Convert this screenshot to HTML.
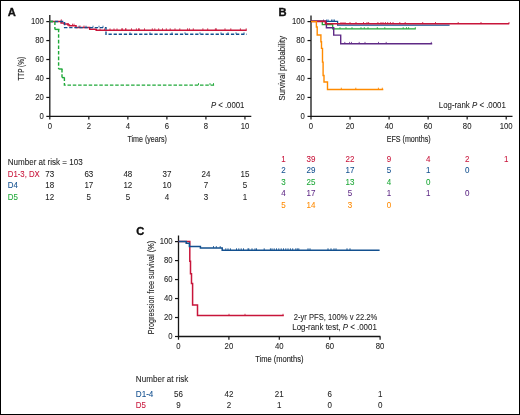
<!DOCTYPE html>
<html><head><meta charset="utf-8"><style>
html,body{margin:0;padding:0;background:#fff;}
#fig{position:absolute;left:0;top:0;width:520px;height:415px;box-sizing:border-box;border:1px solid #000;overflow:hidden;}
svg{position:absolute;left:-1px;top:-1px;will-change:transform;font-family:"Liberation Sans", sans-serif;}
</style></head><body>
<div id="fig"><svg width="520" height="415" viewBox="0 0 520 415">
<text x="7.8" y="15.5" font-size="11.2" text-anchor="start" fill="#111" font-weight="bold" stroke="#111" stroke-width="0.35">A</text>
<path d="M49.8,15 L49.8,116.4 L251.3,116.4" fill="none" stroke="#161616" stroke-width="1.3"/>
<line x1="46.3" y1="116.4" x2="49.8" y2="116.4" stroke="#161616" stroke-width="1.2"/>
<line x1="46.3" y1="97.44" x2="49.8" y2="97.44" stroke="#161616" stroke-width="1.2"/>
<line x1="46.3" y1="78.48" x2="49.8" y2="78.48" stroke="#161616" stroke-width="1.2"/>
<line x1="46.3" y1="59.52" x2="49.8" y2="59.52" stroke="#161616" stroke-width="1.2"/>
<line x1="46.3" y1="40.56" x2="49.8" y2="40.56" stroke="#161616" stroke-width="1.2"/>
<line x1="46.3" y1="21.599999999999994" x2="49.8" y2="21.599999999999994" stroke="#161616" stroke-width="1.2"/>
<line x1="49.8" y1="116.4" x2="49.8" y2="119.60000000000001" stroke="#161616" stroke-width="1.2"/>
<line x1="88.83" y1="116.4" x2="88.83" y2="119.60000000000001" stroke="#161616" stroke-width="1.2"/>
<line x1="127.86" y1="116.4" x2="127.86" y2="119.60000000000001" stroke="#161616" stroke-width="1.2"/>
<line x1="166.89" y1="116.4" x2="166.89" y2="119.60000000000001" stroke="#161616" stroke-width="1.2"/>
<line x1="205.92000000000002" y1="116.4" x2="205.92000000000002" y2="119.60000000000001" stroke="#161616" stroke-width="1.2"/>
<line x1="244.95" y1="116.4" x2="244.95" y2="119.60000000000001" stroke="#161616" stroke-width="1.2"/>
<text x="43.8" y="119.0" font-size="8.6" text-anchor="end" fill="#1e1e1e" textLength="4.3" lengthAdjust="spacingAndGlyphs" stroke="#1e1e1e" stroke-width="0.08">0</text>
<text x="43.8" y="100.03999999999999" font-size="8.6" text-anchor="end" fill="#1e1e1e" textLength="8.6" lengthAdjust="spacingAndGlyphs" stroke="#1e1e1e" stroke-width="0.08">20</text>
<text x="43.8" y="81.08" font-size="8.6" text-anchor="end" fill="#1e1e1e" textLength="8.6" lengthAdjust="spacingAndGlyphs" stroke="#1e1e1e" stroke-width="0.08">40</text>
<text x="43.8" y="62.120000000000005" font-size="8.6" text-anchor="end" fill="#1e1e1e" textLength="8.6" lengthAdjust="spacingAndGlyphs" stroke="#1e1e1e" stroke-width="0.08">60</text>
<text x="43.8" y="43.160000000000004" font-size="8.6" text-anchor="end" fill="#1e1e1e" textLength="8.6" lengthAdjust="spacingAndGlyphs" stroke="#1e1e1e" stroke-width="0.08">80</text>
<text x="43.8" y="24.199999999999996" font-size="8.6" text-anchor="end" fill="#1e1e1e" textLength="12.9" lengthAdjust="spacingAndGlyphs" stroke="#1e1e1e" stroke-width="0.08">100</text>
<text x="49.8" y="128.8" font-size="8.6" text-anchor="middle" fill="#1e1e1e" textLength="4.3" lengthAdjust="spacingAndGlyphs" stroke="#1e1e1e" stroke-width="0.08">0</text>
<text x="88.83" y="128.8" font-size="8.6" text-anchor="middle" fill="#1e1e1e" textLength="4.3" lengthAdjust="spacingAndGlyphs" stroke="#1e1e1e" stroke-width="0.08">2</text>
<text x="127.86" y="128.8" font-size="8.6" text-anchor="middle" fill="#1e1e1e" textLength="4.3" lengthAdjust="spacingAndGlyphs" stroke="#1e1e1e" stroke-width="0.08">4</text>
<text x="166.89" y="128.8" font-size="8.6" text-anchor="middle" fill="#1e1e1e" textLength="4.3" lengthAdjust="spacingAndGlyphs" stroke="#1e1e1e" stroke-width="0.08">6</text>
<text x="205.92000000000002" y="128.8" font-size="8.6" text-anchor="middle" fill="#1e1e1e" textLength="4.3" lengthAdjust="spacingAndGlyphs" stroke="#1e1e1e" stroke-width="0.08">8</text>
<text x="244.95" y="128.8" font-size="8.6" text-anchor="middle" fill="#1e1e1e" textLength="8.6" lengthAdjust="spacingAndGlyphs" stroke="#1e1e1e" stroke-width="0.08">10</text>
<text transform="translate(24.2,68.8) rotate(-90)" font-size="9.1" stroke="#1e1e1e" stroke-width="0.12" text-anchor="middle" fill="#1e1e1e" textLength="23.6" lengthAdjust="spacingAndGlyphs">TTP (%)</text>
<text x="147.2" y="141.8" font-size="9.5" text-anchor="middle" fill="#1e1e1e" textLength="39.6" lengthAdjust="spacingAndGlyphs" stroke="#1e1e1e" stroke-width="0.14">Time (years)</text>
<text x="244.4" y="108.1" font-size="8.8" text-anchor="end" fill="#1e1e1e" textLength="33.5" lengthAdjust="spacingAndGlyphs" stroke="#1e1e1e" stroke-width="0.08"><tspan font-style="italic">P</tspan> &lt; .0001</text>
<path d="M49.80,21.50 L61.10,21.50 L61.10,22.90 L64.20,22.90 L64.20,23.90 L68.00,23.90 L68.00,25.00 L69.40,25.00 L69.40,25.70 L76.00,25.70 L76.00,27.40 L89.70,27.40 L89.70,29.30 L96.20,29.30 L96.20,30.30 L246.70,30.30" fill="none" stroke="#c8153a" stroke-width="1.5" stroke-linejoin="miter" stroke-linecap="butt"/>
<line x1="121.7" y1="30.2" x2="121.7" y2="28.3" stroke="#c8153a" stroke-width="0.8"/>
<line x1="122.6" y1="30.2" x2="122.6" y2="28.3" stroke="#c8153a" stroke-width="0.8"/>
<line x1="125.5" y1="30.2" x2="125.5" y2="28.3" stroke="#c8153a" stroke-width="0.8"/>
<line x1="126" y1="30.2" x2="126" y2="28.3" stroke="#c8153a" stroke-width="0.8"/>
<line x1="131.5" y1="30.2" x2="131.5" y2="28.3" stroke="#c8153a" stroke-width="0.8"/>
<line x1="136.4" y1="30.2" x2="136.4" y2="28.3" stroke="#c8153a" stroke-width="0.8"/>
<line x1="138.5" y1="30.2" x2="138.5" y2="28.3" stroke="#c8153a" stroke-width="0.8"/>
<line x1="139.3" y1="30.2" x2="139.3" y2="28.3" stroke="#c8153a" stroke-width="0.8"/>
<line x1="144.5" y1="30.2" x2="144.5" y2="28.3" stroke="#c8153a" stroke-width="0.8"/>
<line x1="152.3" y1="30.2" x2="152.3" y2="28.3" stroke="#c8153a" stroke-width="0.8"/>
<line x1="154.8" y1="30.2" x2="154.8" y2="28.3" stroke="#c8153a" stroke-width="0.8"/>
<line x1="158.7" y1="30.2" x2="158.7" y2="28.3" stroke="#c8153a" stroke-width="0.8"/>
<line x1="162.5" y1="30.2" x2="162.5" y2="28.3" stroke="#c8153a" stroke-width="0.8"/>
<line x1="166.3" y1="30.2" x2="166.3" y2="28.3" stroke="#c8153a" stroke-width="0.8"/>
<line x1="170.2" y1="30.2" x2="170.2" y2="28.3" stroke="#c8153a" stroke-width="0.8"/>
<line x1="175" y1="30.2" x2="175" y2="28.3" stroke="#c8153a" stroke-width="0.8"/>
<line x1="179.8" y1="30.2" x2="179.8" y2="28.3" stroke="#c8153a" stroke-width="0.8"/>
<line x1="187.5" y1="30.2" x2="187.5" y2="28.3" stroke="#c8153a" stroke-width="0.8"/>
<line x1="189.4" y1="30.2" x2="189.4" y2="28.3" stroke="#c8153a" stroke-width="0.8"/>
<line x1="193.3" y1="30.2" x2="193.3" y2="28.3" stroke="#c8153a" stroke-width="0.8"/>
<line x1="202.9" y1="30.2" x2="202.9" y2="28.3" stroke="#c8153a" stroke-width="0.8"/>
<line x1="207.7" y1="30.2" x2="207.7" y2="28.3" stroke="#c8153a" stroke-width="0.8"/>
<line x1="215.4" y1="30.2" x2="215.4" y2="28.3" stroke="#c8153a" stroke-width="0.8"/>
<line x1="216.3" y1="30.2" x2="216.3" y2="28.3" stroke="#c8153a" stroke-width="0.8"/>
<line x1="225" y1="30.2" x2="225" y2="28.3" stroke="#c8153a" stroke-width="0.8"/>
<line x1="230.8" y1="30.2" x2="230.8" y2="28.3" stroke="#c8153a" stroke-width="0.8"/>
<line x1="240.4" y1="30.2" x2="240.4" y2="28.3" stroke="#c8153a" stroke-width="0.8"/>
<line x1="246.2" y1="30.2" x2="246.2" y2="28.3" stroke="#c8153a" stroke-width="0.8"/>
<line x1="100" y1="30.3" x2="100" y2="28.400000000000002" stroke="#c8153a" stroke-width="0.8"/>
<line x1="104.5" y1="30.3" x2="104.5" y2="28.400000000000002" stroke="#c8153a" stroke-width="0.8"/>
<line x1="110" y1="30.3" x2="110" y2="28.400000000000002" stroke="#c8153a" stroke-width="0.8"/>
<line x1="114" y1="30.3" x2="114" y2="28.400000000000002" stroke="#c8153a" stroke-width="0.8"/>
<line x1="117" y1="30.3" x2="117" y2="28.400000000000002" stroke="#c8153a" stroke-width="0.8"/>
<line x1="61.3" y1="21.5" x2="61.3" y2="19.3" stroke="#c8153a" stroke-width="0.8"/>
<line x1="68" y1="25" x2="68" y2="23" stroke="#c8153a" stroke-width="0.8"/>
<line x1="72.5" y1="25.7" x2="72.5" y2="23.7" stroke="#c8153a" stroke-width="0.8"/>
<line x1="74" y1="25.7" x2="74" y2="23.7" stroke="#c8153a" stroke-width="0.8"/>
<line x1="80" y1="27.4" x2="80" y2="25.5" stroke="#c8153a" stroke-width="0.8"/>
<line x1="84" y1="27.4" x2="84" y2="25.5" stroke="#c8153a" stroke-width="0.8"/>
<path d="M49.80,21.50 L64.60,21.50 L64.60,27.60 L106.00,27.60 L106.00,34.20 L246.70,34.20" fill="none" stroke="#13508f" stroke-width="1.4" stroke-linejoin="miter" stroke-linecap="butt" stroke-dasharray="3.3,1.8"/>
<line x1="79" y1="27.6" x2="79" y2="25.700000000000003" stroke="#13508f" stroke-width="0.8"/>
<line x1="86" y1="27.6" x2="86" y2="25.700000000000003" stroke="#13508f" stroke-width="0.8"/>
<line x1="93" y1="27.6" x2="93" y2="25.700000000000003" stroke="#13508f" stroke-width="0.8"/>
<line x1="99" y1="27.6" x2="99" y2="25.700000000000003" stroke="#13508f" stroke-width="0.8"/>
<line x1="103" y1="27.6" x2="103" y2="25.700000000000003" stroke="#13508f" stroke-width="0.8"/>
<line x1="130" y1="34.2" x2="130" y2="32.300000000000004" stroke="#13508f" stroke-width="0.8"/>
<line x1="150" y1="34.2" x2="150" y2="32.300000000000004" stroke="#13508f" stroke-width="0.8"/>
<line x1="172" y1="34.2" x2="172" y2="32.300000000000004" stroke="#13508f" stroke-width="0.8"/>
<line x1="185" y1="34.2" x2="185" y2="32.300000000000004" stroke="#13508f" stroke-width="0.8"/>
<line x1="200" y1="34.2" x2="200" y2="32.300000000000004" stroke="#13508f" stroke-width="0.8"/>
<line x1="221" y1="34.2" x2="221" y2="32.300000000000004" stroke="#13508f" stroke-width="0.8"/>
<line x1="228" y1="34.2" x2="228" y2="32.300000000000004" stroke="#13508f" stroke-width="0.8"/>
<line x1="236" y1="34.2" x2="236" y2="32.300000000000004" stroke="#13508f" stroke-width="0.8"/>
<line x1="244" y1="34.2" x2="244" y2="32.300000000000004" stroke="#13508f" stroke-width="0.8"/>
<path d="M49.80,21.50 L54.90,21.50 L54.90,29.40" fill="none" stroke="#1ea838" stroke-width="1.4" stroke-linejoin="miter" stroke-linecap="butt" stroke-dasharray="3.4,1.9"/>
<path d="M58.60,29.40 L58.60,69.00" fill="none" stroke="#1ea838" stroke-width="1.4" stroke-linejoin="miter" stroke-linecap="butt" stroke-dasharray="3.6,2" stroke-dashoffset="0.8"/>
<path d="M62.00,69.00 L62.00,77.60" fill="none" stroke="#1ea838" stroke-width="1.4" stroke-linejoin="miter" stroke-linecap="butt" stroke-dasharray="3.4,1.9"/>
<path d="M64.40,77.60 L64.40,85.10 L214.60,85.10" fill="none" stroke="#1ea838" stroke-width="1.4" stroke-linejoin="miter" stroke-linecap="butt" stroke-dasharray="3.5,1.8"/>
<line x1="198.5" y1="85.1" x2="198.5" y2="83.1" stroke="#1ea838" stroke-width="0.9"/>
<line x1="210" y1="85.1" x2="210" y2="83.1" stroke="#1ea838" stroke-width="0.9"/>
<line x1="213.5" y1="85.1" x2="213.5" y2="83.1" stroke="#1ea838" stroke-width="0.9"/>
<path d="M54.90,29.40 L59.50,29.40" fill="none" stroke="#1ea838" stroke-width="1.4" stroke-linejoin="miter" stroke-linecap="butt"/>
<path d="M58.60,69.00 L62.50,69.00" fill="none" stroke="#1ea838" stroke-width="1.4" stroke-linejoin="miter" stroke-linecap="butt"/>
<path d="M62.00,77.60 L64.60,77.60" fill="none" stroke="#1ea838" stroke-width="1.4" stroke-linejoin="miter" stroke-linecap="butt"/>
<text x="278.6" y="15.6" font-size="11.2" text-anchor="start" fill="#111" font-weight="bold" stroke="#111" stroke-width="0.35">B</text>
<path d="M311,15.4 L311,116.4 L512.5,116.4" fill="none" stroke="#161616" stroke-width="1.3"/>
<line x1="307.5" y1="116.4" x2="311" y2="116.4" stroke="#161616" stroke-width="1.2"/>
<line x1="307.5" y1="97.44" x2="311" y2="97.44" stroke="#161616" stroke-width="1.2"/>
<line x1="307.5" y1="78.48" x2="311" y2="78.48" stroke="#161616" stroke-width="1.2"/>
<line x1="307.5" y1="59.52" x2="311" y2="59.52" stroke="#161616" stroke-width="1.2"/>
<line x1="307.5" y1="40.56" x2="311" y2="40.56" stroke="#161616" stroke-width="1.2"/>
<line x1="307.5" y1="21.599999999999994" x2="311" y2="21.599999999999994" stroke="#161616" stroke-width="1.2"/>
<line x1="311.0" y1="116.4" x2="311.0" y2="119.60000000000001" stroke="#161616" stroke-width="1.2"/>
<line x1="350.04" y1="116.4" x2="350.04" y2="119.60000000000001" stroke="#161616" stroke-width="1.2"/>
<line x1="389.08" y1="116.4" x2="389.08" y2="119.60000000000001" stroke="#161616" stroke-width="1.2"/>
<line x1="428.12" y1="116.4" x2="428.12" y2="119.60000000000001" stroke="#161616" stroke-width="1.2"/>
<line x1="467.15999999999997" y1="116.4" x2="467.15999999999997" y2="119.60000000000001" stroke="#161616" stroke-width="1.2"/>
<line x1="506.2" y1="116.4" x2="506.2" y2="119.60000000000001" stroke="#161616" stroke-width="1.2"/>
<text x="304.8" y="119.0" font-size="8.6" text-anchor="end" fill="#1e1e1e" textLength="4.3" lengthAdjust="spacingAndGlyphs" stroke="#1e1e1e" stroke-width="0.08">0</text>
<text x="304.8" y="100.03999999999999" font-size="8.6" text-anchor="end" fill="#1e1e1e" textLength="8.6" lengthAdjust="spacingAndGlyphs" stroke="#1e1e1e" stroke-width="0.08">20</text>
<text x="304.8" y="81.08" font-size="8.6" text-anchor="end" fill="#1e1e1e" textLength="8.6" lengthAdjust="spacingAndGlyphs" stroke="#1e1e1e" stroke-width="0.08">40</text>
<text x="304.8" y="62.120000000000005" font-size="8.6" text-anchor="end" fill="#1e1e1e" textLength="8.6" lengthAdjust="spacingAndGlyphs" stroke="#1e1e1e" stroke-width="0.08">60</text>
<text x="304.8" y="43.160000000000004" font-size="8.6" text-anchor="end" fill="#1e1e1e" textLength="8.6" lengthAdjust="spacingAndGlyphs" stroke="#1e1e1e" stroke-width="0.08">80</text>
<text x="304.8" y="24.199999999999996" font-size="8.6" text-anchor="end" fill="#1e1e1e" textLength="12.9" lengthAdjust="spacingAndGlyphs" stroke="#1e1e1e" stroke-width="0.08">100</text>
<text x="311.0" y="128.8" font-size="8.6" text-anchor="middle" fill="#1e1e1e" textLength="4.3" lengthAdjust="spacingAndGlyphs" stroke="#1e1e1e" stroke-width="0.08">0</text>
<text x="350.04" y="128.8" font-size="8.6" text-anchor="middle" fill="#1e1e1e" textLength="8.6" lengthAdjust="spacingAndGlyphs" stroke="#1e1e1e" stroke-width="0.08">20</text>
<text x="389.08" y="128.8" font-size="8.6" text-anchor="middle" fill="#1e1e1e" textLength="8.6" lengthAdjust="spacingAndGlyphs" stroke="#1e1e1e" stroke-width="0.08">40</text>
<text x="428.12" y="128.8" font-size="8.6" text-anchor="middle" fill="#1e1e1e" textLength="8.6" lengthAdjust="spacingAndGlyphs" stroke="#1e1e1e" stroke-width="0.08">60</text>
<text x="467.15999999999997" y="128.8" font-size="8.6" text-anchor="middle" fill="#1e1e1e" textLength="8.6" lengthAdjust="spacingAndGlyphs" stroke="#1e1e1e" stroke-width="0.08">80</text>
<text x="506.2" y="128.8" font-size="8.6" text-anchor="middle" fill="#1e1e1e" textLength="12.9" lengthAdjust="spacingAndGlyphs" stroke="#1e1e1e" stroke-width="0.08">100</text>
<text transform="translate(285,68.2) rotate(-90)" font-size="8.6" stroke="#1e1e1e" stroke-width="0.12" text-anchor="middle" fill="#1e1e1e" textLength="64.5" lengthAdjust="spacingAndGlyphs">Survival probability</text>
<text x="408.7" y="141.8" font-size="9.5" text-anchor="middle" fill="#1e1e1e" textLength="44.1" lengthAdjust="spacingAndGlyphs" stroke="#1e1e1e" stroke-width="0.14">EFS (months)</text>
<text x="505.8" y="108.1" font-size="8.8" text-anchor="end" fill="#1e1e1e" textLength="67" lengthAdjust="spacingAndGlyphs" stroke="#1e1e1e" stroke-width="0.08">Log-rank <tspan font-style="italic">P</tspan> &lt; .0001</text>
<path d="M311.00,21.30 L322.30,21.30 L322.30,24.70 L332.70,24.70 L332.70,28.90 L415.80,28.90" fill="none" stroke="#1ea838" stroke-width="1.3" stroke-linejoin="miter" stroke-linecap="butt"/>
<line x1="361" y1="28.9" x2="361" y2="27.099999999999998" stroke="#1ea838" stroke-width="0.8"/>
<line x1="364.3" y1="28.9" x2="364.3" y2="27.099999999999998" stroke="#1ea838" stroke-width="0.8"/>
<line x1="368" y1="28.9" x2="368" y2="27.099999999999998" stroke="#1ea838" stroke-width="0.8"/>
<line x1="377.3" y1="28.9" x2="377.3" y2="27.099999999999998" stroke="#1ea838" stroke-width="0.8"/>
<line x1="384.8" y1="28.9" x2="384.8" y2="27.099999999999998" stroke="#1ea838" stroke-width="0.8"/>
<line x1="403.2" y1="28.9" x2="403.2" y2="27.099999999999998" stroke="#1ea838" stroke-width="0.8"/>
<line x1="406.5" y1="28.9" x2="406.5" y2="27.099999999999998" stroke="#1ea838" stroke-width="0.8"/>
<line x1="408.6" y1="28.9" x2="408.6" y2="27.099999999999998" stroke="#1ea838" stroke-width="0.8"/>
<line x1="415.3" y1="28.9" x2="415.3" y2="27.099999999999998" stroke="#1ea838" stroke-width="0.8"/>
<line x1="340" y1="28.9" x2="340" y2="27.099999999999998" stroke="#1ea838" stroke-width="0.8"/>
<line x1="346" y1="28.9" x2="346" y2="27.099999999999998" stroke="#1ea838" stroke-width="0.8"/>
<line x1="352" y1="28.9" x2="352" y2="27.099999999999998" stroke="#1ea838" stroke-width="0.8"/>
<path d="M311.00,21.30 L326.40,21.30 L326.40,27.80 L333.70,27.80 L333.70,35.10 L340.70,35.10 L340.70,43.70 L432.20,43.70" fill="none" stroke="#5f2a86" stroke-width="1.4" stroke-linejoin="miter" stroke-linecap="butt"/>
<line x1="344.8" y1="43.7" x2="344.8" y2="41.900000000000006" stroke="#5f2a86" stroke-width="0.8"/>
<line x1="349.6" y1="43.7" x2="349.6" y2="41.900000000000006" stroke="#5f2a86" stroke-width="0.8"/>
<line x1="351.5" y1="43.7" x2="351.5" y2="41.900000000000006" stroke="#5f2a86" stroke-width="0.8"/>
<line x1="359.2" y1="43.7" x2="359.2" y2="41.900000000000006" stroke="#5f2a86" stroke-width="0.8"/>
<line x1="365" y1="43.7" x2="365" y2="41.900000000000006" stroke="#5f2a86" stroke-width="0.8"/>
<line x1="378.5" y1="43.7" x2="378.5" y2="41.900000000000006" stroke="#5f2a86" stroke-width="0.8"/>
<line x1="386.2" y1="43.7" x2="386.2" y2="41.900000000000006" stroke="#5f2a86" stroke-width="0.8"/>
<line x1="431.3" y1="43.7" x2="431.3" y2="41.900000000000006" stroke="#5f2a86" stroke-width="0.8"/>
<line x1="323.5" y1="21.3" x2="323.5" y2="19.5" stroke="#5f2a86" stroke-width="0.8"/>
<path d="M311.00,21.30 L337.60,21.30 L337.60,25.20 L449.60,25.20" fill="none" stroke="#13508f" stroke-width="1.2" stroke-linejoin="miter" stroke-linecap="butt"/>
<line x1="326.7" y1="21.3" x2="326.7" y2="19.5" stroke="#13508f" stroke-width="0.9"/>
<line x1="328.1" y1="21.3" x2="328.1" y2="19.5" stroke="#13508f" stroke-width="0.9"/>
<line x1="331.6" y1="21.3" x2="331.6" y2="19.5" stroke="#13508f" stroke-width="0.9"/>
<line x1="333" y1="21.3" x2="333" y2="19.5" stroke="#13508f" stroke-width="0.9"/>
<line x1="334.4" y1="21.3" x2="334.4" y2="19.5" stroke="#13508f" stroke-width="0.9"/>
<path d="M311.00,21.40 L325.50,21.40 L325.50,23.80 L509.20,23.80" fill="none" stroke="#c8153a" stroke-width="1.6" stroke-linejoin="miter" stroke-linecap="butt"/>
<line x1="341" y1="23.8" x2="341" y2="22.0" stroke="#c8153a" stroke-width="0.8"/>
<line x1="343" y1="23.8" x2="343" y2="22.0" stroke="#c8153a" stroke-width="0.8"/>
<line x1="345" y1="23.8" x2="345" y2="22.0" stroke="#c8153a" stroke-width="0.8"/>
<line x1="350" y1="23.8" x2="350" y2="22.0" stroke="#c8153a" stroke-width="0.8"/>
<line x1="356" y1="23.8" x2="356" y2="22.0" stroke="#c8153a" stroke-width="0.8"/>
<line x1="363.5" y1="23.8" x2="363.5" y2="22.0" stroke="#c8153a" stroke-width="0.8"/>
<line x1="367" y1="23.8" x2="367" y2="22.0" stroke="#c8153a" stroke-width="0.8"/>
<line x1="368.6" y1="23.8" x2="368.6" y2="22.0" stroke="#c8153a" stroke-width="0.8"/>
<line x1="377.9" y1="23.8" x2="377.9" y2="22.0" stroke="#c8153a" stroke-width="0.8"/>
<line x1="381" y1="23.8" x2="381" y2="22.0" stroke="#c8153a" stroke-width="0.8"/>
<line x1="383" y1="23.8" x2="383" y2="22.0" stroke="#c8153a" stroke-width="0.8"/>
<line x1="385.4" y1="23.8" x2="385.4" y2="22.0" stroke="#c8153a" stroke-width="0.8"/>
<line x1="387.7" y1="23.8" x2="387.7" y2="22.0" stroke="#c8153a" stroke-width="0.8"/>
<line x1="390.4" y1="23.8" x2="390.4" y2="22.0" stroke="#c8153a" stroke-width="0.8"/>
<line x1="393" y1="23.8" x2="393" y2="22.0" stroke="#c8153a" stroke-width="0.8"/>
<line x1="399.8" y1="23.8" x2="399.8" y2="22.0" stroke="#c8153a" stroke-width="0.8"/>
<line x1="405.2" y1="23.8" x2="405.2" y2="22.0" stroke="#c8153a" stroke-width="0.8"/>
<line x1="422.7" y1="23.8" x2="422.7" y2="22.0" stroke="#c8153a" stroke-width="0.8"/>
<line x1="435.5" y1="23.8" x2="435.5" y2="22.0" stroke="#c8153a" stroke-width="0.8"/>
<line x1="458.2" y1="23.8" x2="458.2" y2="22.0" stroke="#c8153a" stroke-width="0.8"/>
<line x1="481" y1="23.8" x2="481" y2="22.0" stroke="#c8153a" stroke-width="0.8"/>
<line x1="509" y1="23.8" x2="509" y2="22.0" stroke="#c8153a" stroke-width="0.8"/>
<path d="M311.00,21.60 L316.40,21.60 L316.40,27.00 L317.20,27.00 L317.20,35.00 L320.90,35.00 L320.90,41.70 L321.50,41.70 L321.50,48.40 L322.50,48.40 L322.50,62.10 L323.10,62.10 L323.10,75.50 L324.00,75.50 L324.00,82.00 L327.50,82.00 L327.50,89.50 L383.30,89.50" fill="none" stroke="#ff8a00" stroke-width="1.4" stroke-linejoin="miter" stroke-linecap="butt"/>
<line x1="341.3" y1="89.5" x2="341.3" y2="87.7" stroke="#ff8a00" stroke-width="0.9"/>
<line x1="355.8" y1="89.5" x2="355.8" y2="87.7" stroke="#ff8a00" stroke-width="0.9"/>
<line x1="378.4" y1="89.5" x2="378.4" y2="87.7" stroke="#ff8a00" stroke-width="0.9"/>
<line x1="382.3" y1="89.5" x2="382.3" y2="87.7" stroke="#ff8a00" stroke-width="0.9"/>
<text x="7.7" y="165.2" font-size="8.7" text-anchor="start" fill="#1e1e1e" textLength="75" lengthAdjust="spacingAndGlyphs" stroke="#1e1e1e" stroke-width="0.08">Number at risk = 103</text>
<text x="7.8" y="176.6" font-size="8.7" text-anchor="start" fill="#c8153a" textLength="32" lengthAdjust="spacingAndGlyphs" stroke="#c8153a" stroke-width="0.08">D1-3, DX</text>
<text x="49.8" y="176.6" font-size="8.7" text-anchor="middle" fill="#1e1e1e" textLength="8.9" lengthAdjust="spacingAndGlyphs" stroke="#1e1e1e" stroke-width="0.08">73</text>
<text x="88.83" y="176.6" font-size="8.7" text-anchor="middle" fill="#1e1e1e" textLength="8.9" lengthAdjust="spacingAndGlyphs" stroke="#1e1e1e" stroke-width="0.08">63</text>
<text x="127.86" y="176.6" font-size="8.7" text-anchor="middle" fill="#1e1e1e" textLength="8.9" lengthAdjust="spacingAndGlyphs" stroke="#1e1e1e" stroke-width="0.08">48</text>
<text x="166.89" y="176.6" font-size="8.7" text-anchor="middle" fill="#1e1e1e" textLength="8.9" lengthAdjust="spacingAndGlyphs" stroke="#1e1e1e" stroke-width="0.08">37</text>
<text x="205.92000000000002" y="176.6" font-size="8.7" text-anchor="middle" fill="#1e1e1e" textLength="8.9" lengthAdjust="spacingAndGlyphs" stroke="#1e1e1e" stroke-width="0.08">24</text>
<text x="244.95" y="176.6" font-size="8.7" text-anchor="middle" fill="#1e1e1e" textLength="8.9" lengthAdjust="spacingAndGlyphs" stroke="#1e1e1e" stroke-width="0.08">15</text>
<text x="7.8" y="188.15" font-size="8.7" text-anchor="start" fill="#13508f" textLength="10.1" lengthAdjust="spacingAndGlyphs" stroke="#13508f" stroke-width="0.08">D4</text>
<text x="49.8" y="188.15" font-size="8.7" text-anchor="middle" fill="#1e1e1e" textLength="8.9" lengthAdjust="spacingAndGlyphs" stroke="#1e1e1e" stroke-width="0.08">18</text>
<text x="88.83" y="188.15" font-size="8.7" text-anchor="middle" fill="#1e1e1e" textLength="8.9" lengthAdjust="spacingAndGlyphs" stroke="#1e1e1e" stroke-width="0.08">17</text>
<text x="127.86" y="188.15" font-size="8.7" text-anchor="middle" fill="#1e1e1e" textLength="8.9" lengthAdjust="spacingAndGlyphs" stroke="#1e1e1e" stroke-width="0.08">12</text>
<text x="166.89" y="188.15" font-size="8.7" text-anchor="middle" fill="#1e1e1e" textLength="8.9" lengthAdjust="spacingAndGlyphs" stroke="#1e1e1e" stroke-width="0.08">10</text>
<text x="205.92000000000002" y="188.15" font-size="8.7" text-anchor="middle" fill="#1e1e1e" textLength="4.45" lengthAdjust="spacingAndGlyphs" stroke="#1e1e1e" stroke-width="0.08">7</text>
<text x="244.95" y="188.15" font-size="8.7" text-anchor="middle" fill="#1e1e1e" textLength="4.45" lengthAdjust="spacingAndGlyphs" stroke="#1e1e1e" stroke-width="0.08">5</text>
<text x="7.8" y="199.7" font-size="8.7" text-anchor="start" fill="#1ea838" textLength="10.1" lengthAdjust="spacingAndGlyphs" stroke="#1ea838" stroke-width="0.08">D5</text>
<text x="49.8" y="199.7" font-size="8.7" text-anchor="middle" fill="#1e1e1e" textLength="8.9" lengthAdjust="spacingAndGlyphs" stroke="#1e1e1e" stroke-width="0.08">12</text>
<text x="88.83" y="199.7" font-size="8.7" text-anchor="middle" fill="#1e1e1e" textLength="4.45" lengthAdjust="spacingAndGlyphs" stroke="#1e1e1e" stroke-width="0.08">5</text>
<text x="127.86" y="199.7" font-size="8.7" text-anchor="middle" fill="#1e1e1e" textLength="4.45" lengthAdjust="spacingAndGlyphs" stroke="#1e1e1e" stroke-width="0.08">5</text>
<text x="166.89" y="199.7" font-size="8.7" text-anchor="middle" fill="#1e1e1e" textLength="4.45" lengthAdjust="spacingAndGlyphs" stroke="#1e1e1e" stroke-width="0.08">4</text>
<text x="205.92000000000002" y="199.7" font-size="8.7" text-anchor="middle" fill="#1e1e1e" textLength="4.45" lengthAdjust="spacingAndGlyphs" stroke="#1e1e1e" stroke-width="0.08">3</text>
<text x="244.95" y="199.7" font-size="8.7" text-anchor="middle" fill="#1e1e1e" textLength="4.45" lengthAdjust="spacingAndGlyphs" stroke="#1e1e1e" stroke-width="0.08">1</text>
<text x="283.4" y="161.7" font-size="8.7" text-anchor="middle" fill="#c8153a" textLength="4.45" lengthAdjust="spacingAndGlyphs" stroke="#c8153a" stroke-width="0.08">1</text>
<text x="311.0" y="161.7" font-size="8.7" text-anchor="middle" fill="#c8153a" textLength="8.9" lengthAdjust="spacingAndGlyphs" stroke="#c8153a" stroke-width="0.08">39</text>
<text x="350.04" y="161.7" font-size="8.7" text-anchor="middle" fill="#c8153a" textLength="8.9" lengthAdjust="spacingAndGlyphs" stroke="#c8153a" stroke-width="0.08">22</text>
<text x="389.08" y="161.7" font-size="8.7" text-anchor="middle" fill="#c8153a" textLength="4.45" lengthAdjust="spacingAndGlyphs" stroke="#c8153a" stroke-width="0.08">9</text>
<text x="428.12" y="161.7" font-size="8.7" text-anchor="middle" fill="#c8153a" textLength="4.45" lengthAdjust="spacingAndGlyphs" stroke="#c8153a" stroke-width="0.08">4</text>
<text x="467.15999999999997" y="161.7" font-size="8.7" text-anchor="middle" fill="#c8153a" textLength="4.45" lengthAdjust="spacingAndGlyphs" stroke="#c8153a" stroke-width="0.08">2</text>
<text x="506.2" y="161.7" font-size="8.7" text-anchor="middle" fill="#c8153a" textLength="4.45" lengthAdjust="spacingAndGlyphs" stroke="#c8153a" stroke-width="0.08">1</text>
<text x="283.4" y="173.25" font-size="8.7" text-anchor="middle" fill="#13508f" textLength="4.45" lengthAdjust="spacingAndGlyphs" stroke="#13508f" stroke-width="0.08">2</text>
<text x="311.0" y="173.25" font-size="8.7" text-anchor="middle" fill="#13508f" textLength="8.9" lengthAdjust="spacingAndGlyphs" stroke="#13508f" stroke-width="0.08">29</text>
<text x="350.04" y="173.25" font-size="8.7" text-anchor="middle" fill="#13508f" textLength="8.9" lengthAdjust="spacingAndGlyphs" stroke="#13508f" stroke-width="0.08">17</text>
<text x="389.08" y="173.25" font-size="8.7" text-anchor="middle" fill="#13508f" textLength="4.45" lengthAdjust="spacingAndGlyphs" stroke="#13508f" stroke-width="0.08">5</text>
<text x="428.12" y="173.25" font-size="8.7" text-anchor="middle" fill="#13508f" textLength="4.45" lengthAdjust="spacingAndGlyphs" stroke="#13508f" stroke-width="0.08">1</text>
<text x="467.15999999999997" y="173.25" font-size="8.7" text-anchor="middle" fill="#13508f" textLength="4.45" lengthAdjust="spacingAndGlyphs" stroke="#13508f" stroke-width="0.08">0</text>
<text x="283.4" y="184.79999999999998" font-size="8.7" text-anchor="middle" fill="#1ea838" textLength="4.45" lengthAdjust="spacingAndGlyphs" stroke="#1ea838" stroke-width="0.08">3</text>
<text x="311.0" y="184.79999999999998" font-size="8.7" text-anchor="middle" fill="#1ea838" textLength="8.9" lengthAdjust="spacingAndGlyphs" stroke="#1ea838" stroke-width="0.08">25</text>
<text x="350.04" y="184.79999999999998" font-size="8.7" text-anchor="middle" fill="#1ea838" textLength="8.9" lengthAdjust="spacingAndGlyphs" stroke="#1ea838" stroke-width="0.08">13</text>
<text x="389.08" y="184.79999999999998" font-size="8.7" text-anchor="middle" fill="#1ea838" textLength="4.45" lengthAdjust="spacingAndGlyphs" stroke="#1ea838" stroke-width="0.08">4</text>
<text x="428.12" y="184.79999999999998" font-size="8.7" text-anchor="middle" fill="#1ea838" textLength="4.45" lengthAdjust="spacingAndGlyphs" stroke="#1ea838" stroke-width="0.08">0</text>
<text x="283.4" y="196.35" font-size="8.7" text-anchor="middle" fill="#5f2a86" textLength="4.45" lengthAdjust="spacingAndGlyphs" stroke="#5f2a86" stroke-width="0.08">4</text>
<text x="311.0" y="196.35" font-size="8.7" text-anchor="middle" fill="#5f2a86" textLength="8.9" lengthAdjust="spacingAndGlyphs" stroke="#5f2a86" stroke-width="0.08">17</text>
<text x="350.04" y="196.35" font-size="8.7" text-anchor="middle" fill="#5f2a86" textLength="4.45" lengthAdjust="spacingAndGlyphs" stroke="#5f2a86" stroke-width="0.08">5</text>
<text x="389.08" y="196.35" font-size="8.7" text-anchor="middle" fill="#5f2a86" textLength="4.45" lengthAdjust="spacingAndGlyphs" stroke="#5f2a86" stroke-width="0.08">1</text>
<text x="428.12" y="196.35" font-size="8.7" text-anchor="middle" fill="#5f2a86" textLength="4.45" lengthAdjust="spacingAndGlyphs" stroke="#5f2a86" stroke-width="0.08">1</text>
<text x="467.15999999999997" y="196.35" font-size="8.7" text-anchor="middle" fill="#5f2a86" textLength="4.45" lengthAdjust="spacingAndGlyphs" stroke="#5f2a86" stroke-width="0.08">0</text>
<text x="283.4" y="207.89999999999998" font-size="8.7" text-anchor="middle" fill="#ff8a00" textLength="4.45" lengthAdjust="spacingAndGlyphs" stroke="#ff8a00" stroke-width="0.08">5</text>
<text x="311.0" y="207.89999999999998" font-size="8.7" text-anchor="middle" fill="#ff8a00" textLength="8.9" lengthAdjust="spacingAndGlyphs" stroke="#ff8a00" stroke-width="0.08">14</text>
<text x="350.04" y="207.89999999999998" font-size="8.7" text-anchor="middle" fill="#ff8a00" textLength="4.45" lengthAdjust="spacingAndGlyphs" stroke="#ff8a00" stroke-width="0.08">3</text>
<text x="389.08" y="207.89999999999998" font-size="8.7" text-anchor="middle" fill="#ff8a00" textLength="4.45" lengthAdjust="spacingAndGlyphs" stroke="#ff8a00" stroke-width="0.08">0</text>
<text x="136.2" y="235.3" font-size="11.2" text-anchor="start" fill="#111" font-weight="bold" stroke="#111" stroke-width="0.35">C</text>
<path d="M178.5,235.4 L178.5,336.5 L380.4,336.5" fill="none" stroke="#161616" stroke-width="1.3"/>
<line x1="175.0" y1="336.5" x2="178.5" y2="336.5" stroke="#161616" stroke-width="1.2"/>
<line x1="175.0" y1="317.52" x2="178.5" y2="317.52" stroke="#161616" stroke-width="1.2"/>
<line x1="175.0" y1="298.54" x2="178.5" y2="298.54" stroke="#161616" stroke-width="1.2"/>
<line x1="175.0" y1="279.56" x2="178.5" y2="279.56" stroke="#161616" stroke-width="1.2"/>
<line x1="175.0" y1="260.58" x2="178.5" y2="260.58" stroke="#161616" stroke-width="1.2"/>
<line x1="175.0" y1="241.6" x2="178.5" y2="241.6" stroke="#161616" stroke-width="1.2"/>
<line x1="178.5" y1="336.5" x2="178.5" y2="339.7" stroke="#161616" stroke-width="1.2"/>
<line x1="228.9" y1="336.5" x2="228.9" y2="339.7" stroke="#161616" stroke-width="1.2"/>
<line x1="279.3" y1="336.5" x2="279.3" y2="339.7" stroke="#161616" stroke-width="1.2"/>
<line x1="329.7" y1="336.5" x2="329.7" y2="339.7" stroke="#161616" stroke-width="1.2"/>
<line x1="380.1" y1="336.5" x2="380.1" y2="339.7" stroke="#161616" stroke-width="1.2"/>
<text x="172.6" y="339.1" font-size="8.6" text-anchor="end" fill="#1e1e1e" textLength="4.3" lengthAdjust="spacingAndGlyphs" stroke="#1e1e1e" stroke-width="0.08">0</text>
<text x="172.6" y="320.12" font-size="8.6" text-anchor="end" fill="#1e1e1e" textLength="8.6" lengthAdjust="spacingAndGlyphs" stroke="#1e1e1e" stroke-width="0.08">20</text>
<text x="172.6" y="301.14000000000004" font-size="8.6" text-anchor="end" fill="#1e1e1e" textLength="8.6" lengthAdjust="spacingAndGlyphs" stroke="#1e1e1e" stroke-width="0.08">40</text>
<text x="172.6" y="282.16" font-size="8.6" text-anchor="end" fill="#1e1e1e" textLength="8.6" lengthAdjust="spacingAndGlyphs" stroke="#1e1e1e" stroke-width="0.08">60</text>
<text x="172.6" y="263.18" font-size="8.6" text-anchor="end" fill="#1e1e1e" textLength="8.6" lengthAdjust="spacingAndGlyphs" stroke="#1e1e1e" stroke-width="0.08">80</text>
<text x="172.6" y="244.2" font-size="8.6" text-anchor="end" fill="#1e1e1e" textLength="12.9" lengthAdjust="spacingAndGlyphs" stroke="#1e1e1e" stroke-width="0.08">100</text>
<text x="178.5" y="348.7" font-size="8.6" text-anchor="middle" fill="#1e1e1e" textLength="4.3" lengthAdjust="spacingAndGlyphs" stroke="#1e1e1e" stroke-width="0.08">0</text>
<text x="228.9" y="348.7" font-size="8.6" text-anchor="middle" fill="#1e1e1e" textLength="8.6" lengthAdjust="spacingAndGlyphs" stroke="#1e1e1e" stroke-width="0.08">20</text>
<text x="279.3" y="348.7" font-size="8.6" text-anchor="middle" fill="#1e1e1e" textLength="8.6" lengthAdjust="spacingAndGlyphs" stroke="#1e1e1e" stroke-width="0.08">40</text>
<text x="329.7" y="348.7" font-size="8.6" text-anchor="middle" fill="#1e1e1e" textLength="8.6" lengthAdjust="spacingAndGlyphs" stroke="#1e1e1e" stroke-width="0.08">60</text>
<text x="380.1" y="348.7" font-size="8.6" text-anchor="middle" fill="#1e1e1e" textLength="8.6" lengthAdjust="spacingAndGlyphs" stroke="#1e1e1e" stroke-width="0.08">80</text>
<text transform="translate(153.7,287.6) rotate(-90)" font-size="9" stroke="#1e1e1e" stroke-width="0.12" text-anchor="middle" fill="#1e1e1e" textLength="93.3" lengthAdjust="spacingAndGlyphs">Progression free survival (%)</text>
<text x="279.3" y="361.6" font-size="9.5" text-anchor="middle" fill="#1e1e1e" textLength="48.3" lengthAdjust="spacingAndGlyphs" stroke="#1e1e1e" stroke-width="0.14">Time (months)</text>
<text x="377.3" y="319.8" font-size="8.7" text-anchor="end" fill="#1e1e1e" textLength="83.6" lengthAdjust="spacingAndGlyphs" stroke="#1e1e1e" stroke-width="0.08">2-yr PFS, 100% v 22.2%</text>
<text x="376.8" y="329.5" font-size="8.7" text-anchor="end" fill="#1e1e1e" textLength="84.5" lengthAdjust="spacingAndGlyphs" stroke="#1e1e1e" stroke-width="0.08">Log-rank test, <tspan font-style="italic">P</tspan> &lt; .0001</text>
<path d="M178.50,241.60 L189.80,241.60 L189.80,261.20 L190.50,261.20 L190.50,273.70 L191.50,273.70 L191.50,283.40 L192.60,283.40 L192.60,305.10 L197.50,305.10 L197.50,315.60 L283.80,315.60" fill="none" stroke="#c8153a" stroke-width="1.5" stroke-linejoin="miter" stroke-linecap="butt"/>
<line x1="229" y1="315.6" x2="229" y2="313.8" stroke="#c8153a" stroke-width="0.8"/>
<line x1="245" y1="315.6" x2="245" y2="313.8" stroke="#c8153a" stroke-width="0.8"/>
<line x1="283" y1="315.6" x2="283" y2="313.8" stroke="#c8153a" stroke-width="0.8"/>
<path d="M178.50,241.60 L186.20,241.60 L186.20,243.30 L189.40,243.30 L189.40,246.50 L200.40,246.50 L200.40,247.90 L222.20,247.90 L222.20,250.20 L379.60,250.20" fill="none" stroke="#13508f" stroke-width="1.5" stroke-linejoin="miter" stroke-linecap="butt"/>
<line x1="213.5" y1="247.9" x2="213.5" y2="246.1" stroke="#13508f" stroke-width="0.9"/>
<line x1="216.3" y1="247.9" x2="216.3" y2="246.1" stroke="#13508f" stroke-width="0.9"/>
<line x1="220.2" y1="247.9" x2="220.2" y2="246.1" stroke="#13508f" stroke-width="0.9"/>
<line x1="225.8" y1="250.2" x2="225.8" y2="248.29999999999998" stroke="#13508f" stroke-width="0.9"/>
<line x1="228" y1="250.2" x2="228" y2="248.29999999999998" stroke="#13508f" stroke-width="0.9"/>
<line x1="230.4" y1="250.2" x2="230.4" y2="248.29999999999998" stroke="#13508f" stroke-width="0.9"/>
<line x1="236.5" y1="250.2" x2="236.5" y2="248.29999999999998" stroke="#13508f" stroke-width="0.9"/>
<line x1="238.8" y1="250.2" x2="238.8" y2="248.29999999999998" stroke="#13508f" stroke-width="0.9"/>
<line x1="241.2" y1="250.2" x2="241.2" y2="248.29999999999998" stroke="#13508f" stroke-width="0.9"/>
<line x1="243.5" y1="250.2" x2="243.5" y2="248.29999999999998" stroke="#13508f" stroke-width="0.9"/>
<line x1="248" y1="250.2" x2="248" y2="248.29999999999998" stroke="#13508f" stroke-width="0.9"/>
<line x1="248.8" y1="250.2" x2="248.8" y2="248.29999999999998" stroke="#13508f" stroke-width="0.9"/>
<line x1="252" y1="250.2" x2="252" y2="248.29999999999998" stroke="#13508f" stroke-width="0.9"/>
<line x1="255" y1="250.2" x2="255" y2="248.29999999999998" stroke="#13508f" stroke-width="0.9"/>
<line x1="256.5" y1="250.2" x2="256.5" y2="248.29999999999998" stroke="#13508f" stroke-width="0.9"/>
<line x1="264.2" y1="250.2" x2="264.2" y2="248.29999999999998" stroke="#13508f" stroke-width="0.9"/>
<line x1="270.4" y1="250.2" x2="270.4" y2="248.29999999999998" stroke="#13508f" stroke-width="0.9"/>
<line x1="272" y1="250.2" x2="272" y2="248.29999999999998" stroke="#13508f" stroke-width="0.9"/>
<line x1="274.2" y1="250.2" x2="274.2" y2="248.29999999999998" stroke="#13508f" stroke-width="0.9"/>
<line x1="276.5" y1="250.2" x2="276.5" y2="248.29999999999998" stroke="#13508f" stroke-width="0.9"/>
<line x1="278.8" y1="250.2" x2="278.8" y2="248.29999999999998" stroke="#13508f" stroke-width="0.9"/>
<line x1="281.2" y1="250.2" x2="281.2" y2="248.29999999999998" stroke="#13508f" stroke-width="0.9"/>
<line x1="283.5" y1="250.2" x2="283.5" y2="248.29999999999998" stroke="#13508f" stroke-width="0.9"/>
<line x1="285.8" y1="250.2" x2="285.8" y2="248.29999999999998" stroke="#13508f" stroke-width="0.9"/>
<line x1="288" y1="250.2" x2="288" y2="248.29999999999998" stroke="#13508f" stroke-width="0.9"/>
<line x1="290.4" y1="250.2" x2="290.4" y2="248.29999999999998" stroke="#13508f" stroke-width="0.9"/>
<line x1="292.7" y1="250.2" x2="292.7" y2="248.29999999999998" stroke="#13508f" stroke-width="0.9"/>
<line x1="295.8" y1="250.2" x2="295.8" y2="248.29999999999998" stroke="#13508f" stroke-width="0.9"/>
<line x1="297.3" y1="250.2" x2="297.3" y2="248.29999999999998" stroke="#13508f" stroke-width="0.9"/>
<line x1="298.8" y1="250.2" x2="298.8" y2="248.29999999999998" stroke="#13508f" stroke-width="0.9"/>
<line x1="308" y1="250.2" x2="308" y2="248.29999999999998" stroke="#13508f" stroke-width="0.9"/>
<line x1="310" y1="250.2" x2="310" y2="248.29999999999998" stroke="#13508f" stroke-width="0.9"/>
<line x1="328" y1="250.2" x2="328" y2="248.29999999999998" stroke="#13508f" stroke-width="0.9"/>
<line x1="331" y1="250.2" x2="331" y2="248.29999999999998" stroke="#13508f" stroke-width="0.9"/>
<line x1="334" y1="250.2" x2="334" y2="248.29999999999998" stroke="#13508f" stroke-width="0.9"/>
<line x1="336" y1="250.2" x2="336" y2="248.29999999999998" stroke="#13508f" stroke-width="0.9"/>
<line x1="347" y1="250.2" x2="347" y2="248.29999999999998" stroke="#13508f" stroke-width="0.9"/>
<line x1="350" y1="250.2" x2="350" y2="248.29999999999998" stroke="#13508f" stroke-width="0.9"/>
<text x="135.8" y="382.2" font-size="8.7" text-anchor="start" fill="#1e1e1e" textLength="52.6" lengthAdjust="spacingAndGlyphs" stroke="#1e1e1e" stroke-width="0.08">Number at risk</text>
<text x="135.8" y="396.6" font-size="8.7" text-anchor="start" fill="#13508f" textLength="17.6" lengthAdjust="spacingAndGlyphs" stroke="#13508f" stroke-width="0.08">D1-4</text>
<text x="178.5" y="396.6" font-size="8.7" text-anchor="middle" fill="#1e1e1e" textLength="8.9" lengthAdjust="spacingAndGlyphs" stroke="#1e1e1e" stroke-width="0.08">56</text>
<text x="228.9" y="396.6" font-size="8.7" text-anchor="middle" fill="#1e1e1e" textLength="8.9" lengthAdjust="spacingAndGlyphs" stroke="#1e1e1e" stroke-width="0.08">42</text>
<text x="279.3" y="396.6" font-size="8.7" text-anchor="middle" fill="#1e1e1e" textLength="8.9" lengthAdjust="spacingAndGlyphs" stroke="#1e1e1e" stroke-width="0.08">21</text>
<text x="329.7" y="396.6" font-size="8.7" text-anchor="middle" fill="#1e1e1e" textLength="4.45" lengthAdjust="spacingAndGlyphs" stroke="#1e1e1e" stroke-width="0.08">6</text>
<text x="380.1" y="396.6" font-size="8.7" text-anchor="middle" fill="#1e1e1e" textLength="4.45" lengthAdjust="spacingAndGlyphs" stroke="#1e1e1e" stroke-width="0.08">1</text>
<text x="135.8" y="408.1" font-size="8.7" text-anchor="start" fill="#c8153a" textLength="10.1" lengthAdjust="spacingAndGlyphs" stroke="#c8153a" stroke-width="0.08">D5</text>
<text x="178.5" y="408.1" font-size="8.7" text-anchor="middle" fill="#1e1e1e" textLength="4.45" lengthAdjust="spacingAndGlyphs" stroke="#1e1e1e" stroke-width="0.08">9</text>
<text x="228.9" y="408.1" font-size="8.7" text-anchor="middle" fill="#1e1e1e" textLength="4.45" lengthAdjust="spacingAndGlyphs" stroke="#1e1e1e" stroke-width="0.08">2</text>
<text x="279.3" y="408.1" font-size="8.7" text-anchor="middle" fill="#1e1e1e" textLength="4.45" lengthAdjust="spacingAndGlyphs" stroke="#1e1e1e" stroke-width="0.08">1</text>
<text x="329.7" y="408.1" font-size="8.7" text-anchor="middle" fill="#1e1e1e" textLength="4.45" lengthAdjust="spacingAndGlyphs" stroke="#1e1e1e" stroke-width="0.08">0</text>
<text x="380.1" y="408.1" font-size="8.7" text-anchor="middle" fill="#1e1e1e" textLength="4.45" lengthAdjust="spacingAndGlyphs" stroke="#1e1e1e" stroke-width="0.08">0</text>
</svg></div>
</body></html>
